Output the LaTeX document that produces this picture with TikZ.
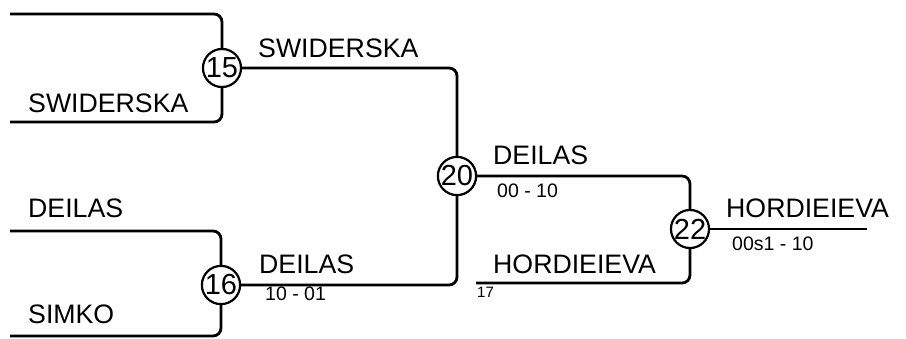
\documentclass[tikz,border=0pt]{standalone}
\usepackage{fontspec}
\setmainfont{Liberation Sans}
\usetikzlibrary{calc}
\tikzset{
	match/.style={draw, circle, line width=2.2pt, minimum size=37pt, inner sep=0pt, fill=white, font=\fontsize{29}{29}\selectfont},
	wire/.style={line width=2.8pt, rounded corners=8pt},
	player/.style={anchor=base west, inner sep=0pt, font=\fontsize{26.7}{26.7}\selectfont},
	score/.style={anchor=base west, inner sep=0pt, font=\fontsize{19.5}{19.5}\selectfont},
	seed/.style={anchor=base west, inner sep=0pt, font=\fontsize{15}{15}\selectfont}
}

\begin{document}
\begin{tikzpicture}[x=1pt, y=-1pt]
			%%%%% START %%%%%
			\useasboundingbox (0, 0) rectangle (906, 338);
			
			\node[match] (m15) at (222, 68) {15};
			\node[match] (m16) at (221, 285) {16};
			\node[match] (m20) at (457, 176) {20};
			\node[match] (m22) at (690, 229) {22};
			
			\coordinate (s1) at (10, 14);
			\coordinate (s2) at (10, 122);
			\coordinate (s3) at (10, 231);
			\coordinate (s4) at (10, 336);
			\coordinate (s17) at (476, 283);
			\coordinate (win) at (867, 229);
			
			\draw[wire] (s1) -| (m15);
			\draw[wire] (s2) -| (m15);
			\draw[wire] (s3) -| (m16);
			\draw[wire] (s4) -| (m16);
			\draw[wire] (m15) -| (m20);
			\draw[wire] (m16) -| (m20);
			\draw[wire] (m20) -| (m22);
			\draw[wire] (s17) -| (m22);
			\draw[wire] (m22) -- (win);
			
			\node[player] (p1) at (28, 112) {SWIDERSKA};
			\node[player] (p2) at (28, 217) {DEILAS};
			\node[player] (p3) at (28, 323) {SIMKO};
			\node[player] (w15) at (258, 57) {SWIDERSKA};
			\node[player] (w16) at (259, 273) {DEILAS};
			\node[score] (r16) at (265, 300) {10 - 01};
			\node[player] (w20) at (493, 164) {DEILAS};
			\node[score] (r20) at (497, 197) {00 - 10};
			\node[player] (p17) at (493, 273) {HORDIEIEVA};
			\node[seed] (n17) at (477, 297) {17};
			\node[player] (w22) at (726, 217) {HORDIEIEVA};
			\node[score] (r22) at (732, 250) {00s1 - 10};
			
			%%%%% END %%%%%
\end{tikzpicture}
\end{document}
